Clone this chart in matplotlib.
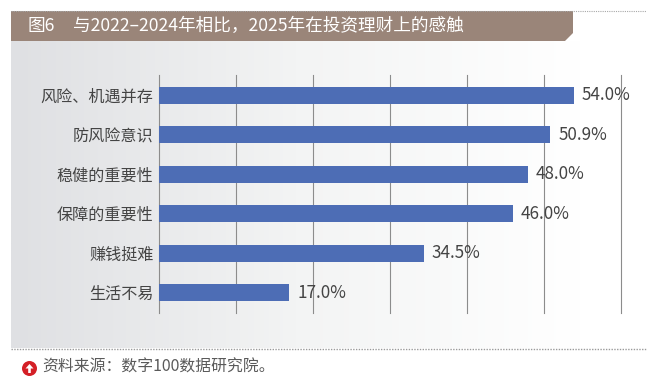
import numpy as np
import matplotlib
matplotlib.use('Agg')
import matplotlib.pyplot as plt
from matplotlib.colors import LinearSegmentedColormap
from matplotlib.patches import Polygon, Circle, FancyArrow

plt.rcParams['font.family'] = ['Noto Sans CJK SC', 'DejaVu Sans']

categories = ['风险、机遇并存', '防风险意识', '稳健的重要性', '保障的重要性', '赚钱挺难', '生活不易']
values = [54.0, 50.9, 48.0, 46.0, 34.5, 17.0]
x_ticks = [0, 10, 20, 30, 40, 50, 60]

fig_label = '图6'
title = '与2022–2024年相比，2025年在投资理财上的感触'
source = '资料来源：数字100数据研究院。'

W, H = 665, 391
fig = plt.figure(figsize=(W / 100, H / 100), dpi=100, facecolor='white')

# page layer in pixel coordinates
bg = fig.add_axes([0, 0, 1, 1])
bg.axis('off')

# grey to white panel
grad = np.linspace(0, 1, 256).reshape(1, -1)
cmap = LinearSegmentedColormap.from_list('p', ['#dfe0e3', '#f3f4f4', '#ffffff'])
bg.imshow(grad, extent=[11, 646, 348, 41], aspect='auto', cmap=cmap, vmin=0, vmax=0.9)
bg.set_xlim(0, W)
bg.set_ylim(H, 0)

bg.plot([11, 646], [10.5, 10.5], color='#a8a8a8', lw=0.8, ls=(0, (1, 1)))
bg.plot([11, 646], [348.5, 348.5], color='#9a9a9a', lw=1.0, ls=(0, (1, 1)))

bg.add_patch(Polygon([(11, 11), (573, 11), (573, 33), (565, 41), (11, 41)], closed=True, fc='#9a8579', ec='none'))
bg.text(28, 26, fig_label, color='white', fontsize=12.7, va='center', ha='left')
bg.text(73, 26, title, color='white', fontsize=12.7, va='center', ha='left')

bg.add_patch(Circle((29.5, 368.5), 7.5, fc='#d42027', ec='none'))
bg.add_patch(FancyArrow(29.5, 373, 0, -9, width=2.6, head_width=8, head_length=4.5, length_includes_head=True, fc='white', ec='none'))
bg.text(42, 367.5, source, color='#5a5a5a', fontsize=11.4, va='center', ha='left')

# chart axes, 0 at x=158.5 and 60 at x=620.5
ax = fig.add_axes([158.5 / W, 1 - 313 / H, 462 / W, 238 / H])
ax.patch.set_alpha(0)
y = np.arange(len(categories))
ax.barh(y, values, height=0.43, color='#4d6db5', zorder=2)
ax.set_xlim(0, 60)
ax.set_ylim(len(categories) - 0.5 + 0.02, -0.5 - 0.02)
ax.set_xticks(x_ticks)
ax.xaxis.grid(True, color='#8c8c8c', lw=0.8, zorder=1, clip_on=False)
ax.set_axisbelow(True)
ax.tick_params(axis='x', length=0, labelbottom=False)
ax.tick_params(axis='y', length=0, pad=3.5)
ax.set_yticks(y)
ax.set_yticklabels(categories, fontsize=11.6, color='#444444')
for s in ax.spines.values():
    s.set_visible(False)

for i, v in enumerate(values):
    ax.text(v + 1.0, i, f'{v:.1f}%', fontsize=12.3, color='#444444', va='center', ha='left', zorder=3)

plt.savefig('out.png', dpi=100)
